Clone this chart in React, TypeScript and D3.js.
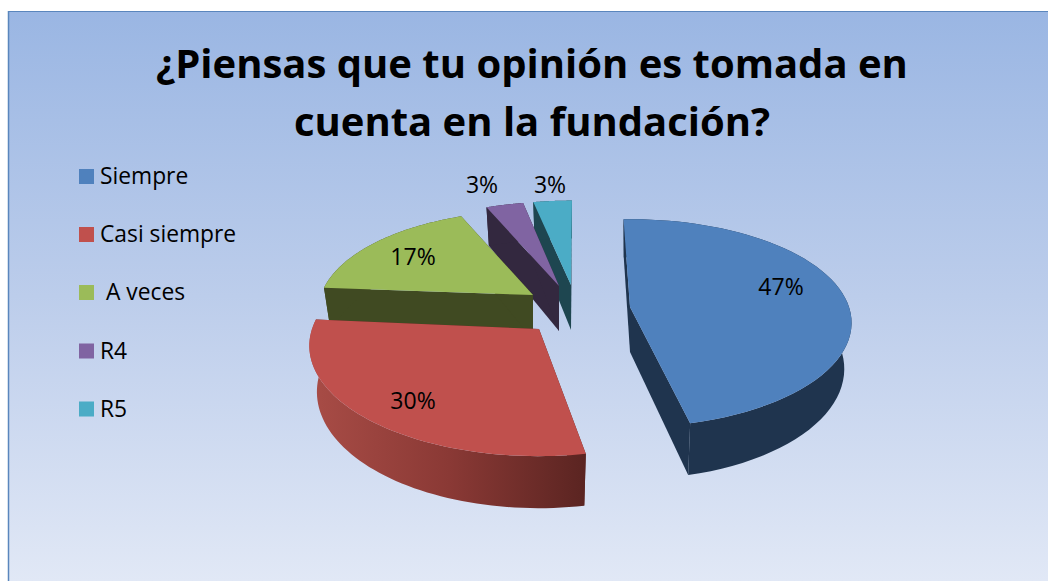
import React from "react";
import * as d3 from "d3";

const categories = ["Siempre", "Casi siempre", "A veces", "R4", "R5"];
const values = [47, 30, 17, 3, 3];
const percentLabels = ["47%", "30%", "17%", "3%", "3%"];
const titleLines = ["¿Piensas que tu opinión es tomada en", "cuenta en la fundación?"];

const topColors = ["#4f81bd", "#c0504d", "#9bbb59", "#8064a2", "#4bacc6"];
const wallColors = ["#1f344e", "url(#redWall)", "#404a22", "#33283f", "#1e4650"];

// exploded position of each slice apex, with its own radii, perspective nudges and label position
const apexX = [630, 539, 533, 559, 571];
const apexY = [307, 329, 295, 286, 285];
const radii = [219, 227, 212, 214, 214];
const radiiY = [104, 110, 100, 100, 100];
const startNudge = [1, 3.5, 0, 1.3, 1.8];
const endNudge = [0, 0.8, 1.3, 2.4, 3.3];
const labelX = [781, 413, 413, 482, 550];
const labelY = [287, 401, 257, 185, 185];
const legendY = [176.5, 234.5, 292.5, 351, 409];

const K = 0.156;
const DEPTH = 45;
const BOTTOM_SHRINK = 0.967;
const FONT = "'Open Sans', sans-serif";
const RAD = Math.PI / 180;

export default function App() {
  const pie = d3
    .pie<number>()
    .sort(null)
    .startAngle(-3 * RAD)
    .endAngle(357 * RAD);
  const arcs = pie(values);
  const line = d3.line();

  const drawOrder = [4, 3, 2, 1, 0];

  const project = (i: number, a: number, low = false): [number, number] => {
    const s = 1 - K * Math.cos(a);
    const shrink = low ? BOTTOM_SHRINK : 1;
    return [
      apexX[i] + radii[i] * Math.sin(a) * s * shrink,
      apexY[i] - radiiY[i] * Math.cos(a) * s + (low ? DEPTH * s : 0),
    ];
  };
  const rim = (i: number, a0: number, a1: number, low = false) =>
    d3.range(0, 61).map((n) => project(i, a0 + ((a1 - a0) * n) / 60, low));

  return (
    <svg
      width={1048}
      height={581}
      viewBox="0 0 1048 581"
      style={{ position: "absolute", left: 0, top: 0, display: "block" }}
    >
      <defs>
        <linearGradient id="bg" x1="0" y1="0" x2="0" y2="1">
          <stop offset="0" stopColor="#9ab6e3" />
          <stop offset="0.5" stopColor="#bccdeb" />
          <stop offset="1" stopColor="#e1e8f6" />
        </linearGradient>
        <linearGradient id="redWall" gradientUnits="userSpaceOnUse" x1="312" y1="0" x2="587" y2="0">
          <stop offset="0" stopColor="#a84c46" />
          <stop offset="0.5" stopColor="#8a3935" />
          <stop offset="1" stopColor="#5a2421" />
        </linearGradient>
      </defs>
      <rect x={0} y={0} width={1048} height={581} fill="#ffffff" />
      <rect x={8} y={11} width={1040} height={570} fill="url(#bg)" />
      <line x1={8} y1={11.5} x2={1048} y2={11.5} stroke="#5a86bd" strokeWidth={1} />
      <line x1={8.5} y1={11} x2={8.5} y2={581} stroke="#5a86bd" strokeWidth={1.5} />

      {titleLines.map((t, i) => (
        <text
          key={t}
          x={532}
          y={78 + i * 58}
          textAnchor="middle"
          fontFamily={FONT}
          fontWeight={700}
          fontSize={40}
          fill="#000"
        >
          {t}
        </text>
      ))}

      {categories.map((c, i) => (
        <g key={c}>
          <rect x={79} y={legendY[i] - 7.5} width={15} height={15} fill={topColors[i]} />
          <text
            x={c === "A veces" ? 106 : 100}
            y={legendY[i] + 7.5}
            fontFamily={FONT}
            fontSize={22.8}
            fill="#000"
          >
            {c}
          </text>
        </g>
      ))}

      {drawOrder.map((i) => {
        const a0 = arcs[i].startAngle + startNudge[i] * RAD;
        const a1 = arcs[i].endAngle + endNudge[i] * RAD;
        const apex: [number, number] = [apexX[i], apexY[i]];
        const apexLow: [number, number] = [apexX[i], apexY[i] + DEPTH];
        const face = (a: number) =>
          line([apex, project(i, a), project(i, a, true), apexLow])! + "Z";
        const wall =
          line([...rim(i, a0, a1), ...rim(i, a0, a1, true).reverse()])! + "Z";
        const top = line([apex, ...rim(i, a0, a1)])! + "Z";
        return (
          <g key={categories[i]}>
            <path d={face(a0)} fill={i === 1 ? "#5a2421" : wallColors[i]} />
            <path d={face(a1)} fill={i === 1 ? "#5a2421" : wallColors[i]} />
            <path d={wall} fill={wallColors[i]} />
            <path d={top} fill={topColors[i]} />
          </g>
        );
      })}

      {percentLabels.map((l, i) => (
        <text
          key={i}
          x={labelX[i]}
          y={labelY[i] + 8}
          textAnchor="middle"
          fontFamily={FONT}
          fontSize={23}
          fill="#000"
        >
          {l}
        </text>
      ))}
    </svg>
  );
}
